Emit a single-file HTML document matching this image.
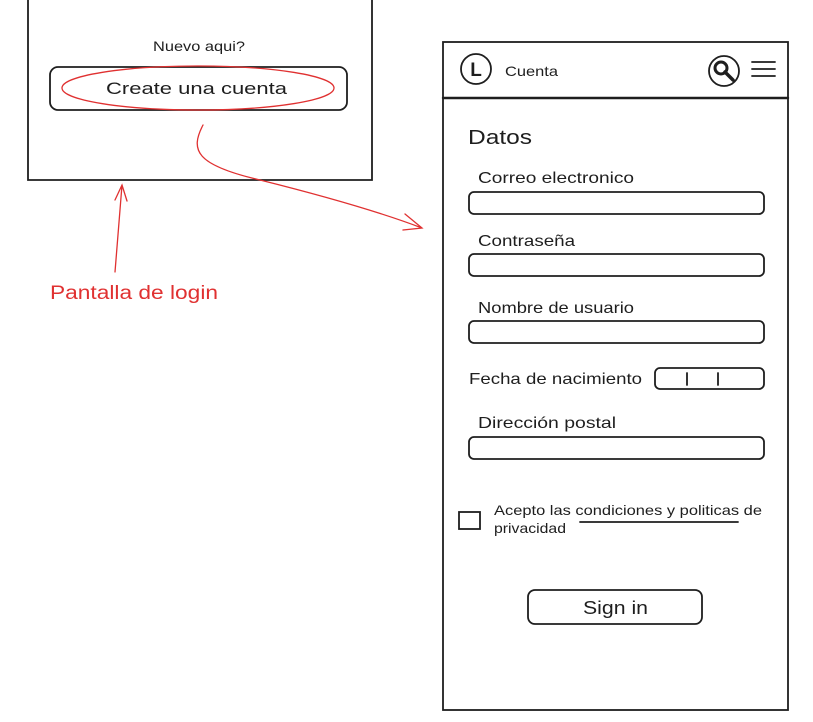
<!DOCTYPE html>
<html><head><meta charset="utf-8"><style>
html,body{margin:0;padding:0;background:#fff;}
svg{display:block;}
text{font-family:"Liberation Sans",sans-serif;fill:#1e1e1e;}
</style></head><body>
<svg width="813" height="722" viewBox="0 0 813 722" xmlns="http://www.w3.org/2000/svg">
<g fill="none" stroke="#1e1e1e" stroke-width="1.8" stroke-linecap="round">
<path d="M28 0 L28 180 L372 180 L372 0"/>
<rect x="50" y="67" width="297" height="43" rx="8"/>
<rect x="443" y="42" width="345" height="668"/>
<line x1="443" y1="98" x2="788" y2="98" stroke-width="2.4"/>
<circle cx="476" cy="69" r="15"/>
<circle cx="724" cy="71" r="15"/>
<circle cx="721" cy="68" r="6" stroke-width="3"/>
<line x1="725" y1="72" x2="733" y2="80" stroke-width="3.5"/>
<line x1="752" y1="62" x2="775" y2="62"/>
<line x1="752" y1="69" x2="775" y2="69"/>
<line x1="752" y1="76" x2="775" y2="76"/>
<rect x="469" y="192" width="295" height="22" rx="5"/>
<rect x="469" y="254" width="295" height="22" rx="5"/>
<rect x="469" y="321" width="295" height="22" rx="5"/>
<rect x="655" y="368" width="109" height="21" rx="5"/>
<line x1="687" y1="373" x2="687" y2="385"/>
<line x1="718" y1="373" x2="718" y2="385"/>
<rect x="469" y="437" width="295" height="22" rx="5"/>
<rect x="459" y="512" width="21" height="17"/>
<line x1="580" y1="522" x2="738" y2="522"/>
<rect x="528" y="590" width="174" height="34" rx="7"/>
</g>
<g fill="none" stroke="#e03131" stroke-width="1.3" stroke-linecap="round">
<ellipse cx="198" cy="88" rx="136" ry="22"/>
<path d="M115 272 L122 185 M115 200 L122 185 L127 201"/>
<path d="M203 125 C190 150,195 165,260 180 C320 195,380 212,422 228 M405 214 L422 228 L403 230"/>
</g>
<text x="153" y="51" font-size="14" textLength="92" lengthAdjust="spacingAndGlyphs">Nuevo aqui?</text>
<text x="106" y="94" font-size="17" textLength="181" lengthAdjust="spacingAndGlyphs">Create una cuenta</text>
<text x="50" y="299" font-size="19" textLength="168" lengthAdjust="spacingAndGlyphs" style="fill:#e03131">Pantalla de login</text>
<text x="476" y="76" font-size="19" font-weight="bold" text-anchor="middle">L</text>
<text x="505" y="76" font-size="14" textLength="53" lengthAdjust="spacingAndGlyphs">Cuenta</text>
<text x="468" y="144" font-size="20" textLength="64" lengthAdjust="spacingAndGlyphs">Datos</text>
<text x="478" y="183" font-size="16" textLength="156" lengthAdjust="spacingAndGlyphs">Correo electronico</text>
<text x="478" y="246" font-size="16" textLength="97" lengthAdjust="spacingAndGlyphs">Contraseña</text>
<text x="478" y="313" font-size="16" textLength="156" lengthAdjust="spacingAndGlyphs">Nombre de usuario</text>
<text x="469" y="384" font-size="16" textLength="173" lengthAdjust="spacingAndGlyphs">Fecha de nacimiento</text>
<text x="478" y="428" font-size="16" textLength="138" lengthAdjust="spacingAndGlyphs">Dirección postal</text>
<text x="494" y="515" font-size="14" textLength="268" lengthAdjust="spacingAndGlyphs">Acepto las condiciones y politicas de</text>
<text x="494" y="533" font-size="14" textLength="72" lengthAdjust="spacingAndGlyphs">privacidad</text>
<text x="583" y="614" font-size="18" textLength="65" lengthAdjust="spacingAndGlyphs">Sign in</text>
</svg>
</body></html>
